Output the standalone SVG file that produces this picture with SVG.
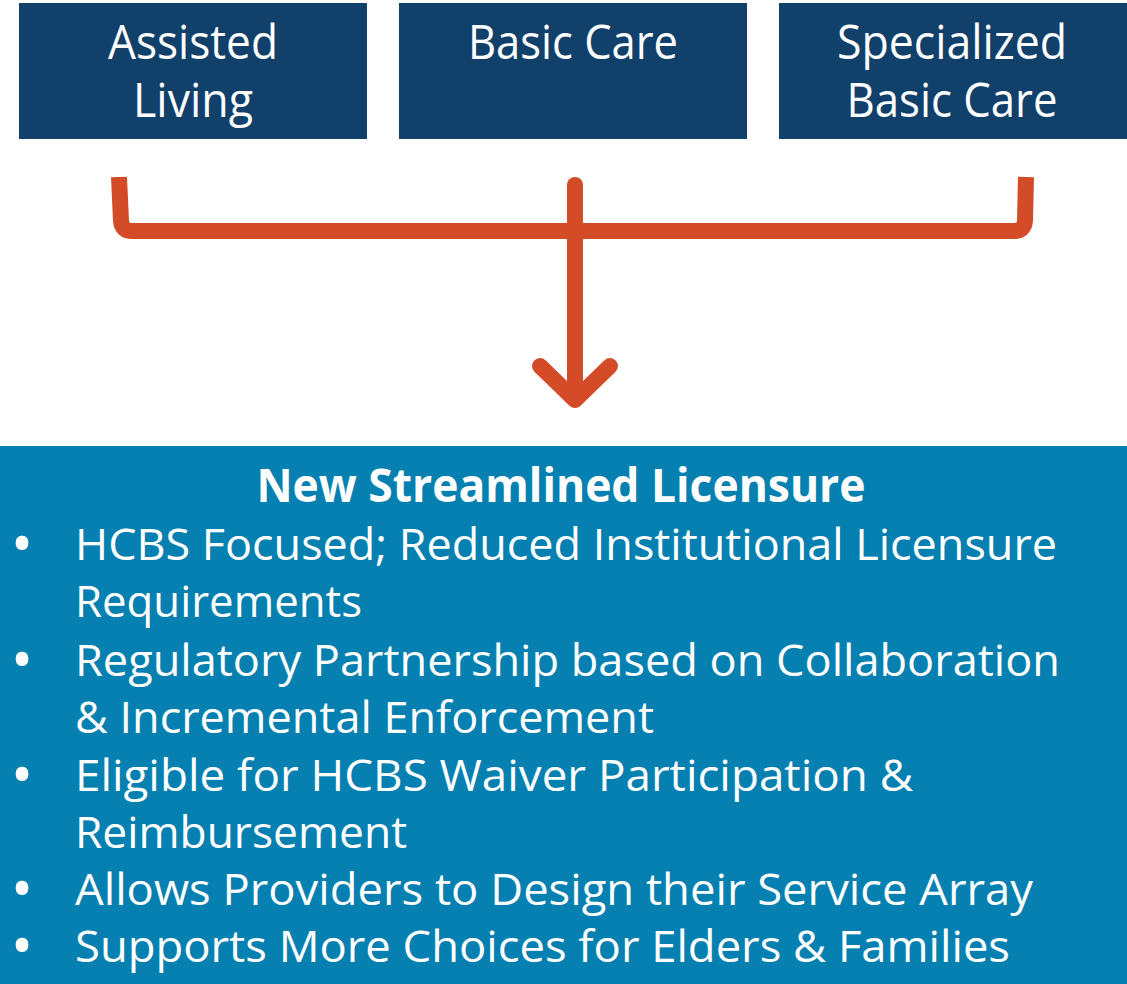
<svg xmlns="http://www.w3.org/2000/svg" width="1127" height="984" viewBox="0 0 1127 984">
<style>
.box{fill:#11406b}
.bt{font-family:"Open Sans","Noto Sans",sans-serif;font-size:48px;fill:#fff;text-anchor:middle}
.li{font-family:"Open Sans","Noto Sans",sans-serif;font-size:44px;fill:#fff}
.bu{font-family:"Open Sans","Noto Sans",sans-serif;font-size:60px;fill:#fff;text-anchor:middle}
.ti{font-family:"Open Sans","Noto Sans",sans-serif;font-size:46px;font-weight:bold;fill:#fff;text-anchor:middle}
.con{fill:none;stroke:#d44b27;stroke-width:16}
</style>
<rect width="1127" height="984" fill="#fff"/>
<g id="node-assisted-living">
<rect class="box" x="19" y="3" width="348" height="136"/>
<text class="bt"><tspan x="193" y="59" textLength="170" lengthAdjust="spacingAndGlyphs">Assisted</tspan><tspan x="193" y="117" textLength="120" lengthAdjust="spacingAndGlyphs">Living</tspan></text>
</g>
<g id="node-basic-care">
<rect class="box" x="399" y="3" width="348" height="136"/>
<text class="bt" x="573" y="59" textLength="210" lengthAdjust="spacingAndGlyphs">Basic Care</text>
</g>
<g id="node-specialized-basic-care">
<rect class="box" x="779" y="3" width="348" height="136"/>
<text class="bt"><tspan x="952" y="59" textLength="230" lengthAdjust="spacingAndGlyphs">Specialized</tspan><tspan x="952" y="117" textLength="211" lengthAdjust="spacingAndGlyphs">Basic Care</tspan></text>
</g>
<g id="connectors">
<path class="con" d="M119,177 L121,221 Q122,231 132,231 L1014,231 Q1024,231 1025,221 L1026,177"/>
<path class="con" stroke-width="15" stroke-linecap="round" d="M575,185 L575,398"/>
<path class="con" stroke-width="15" stroke-linecap="round" stroke-linejoin="round" d="M540,366 L575,400 L610,366"/>
</g>
<g id="node-new-streamlined-licensure">
<rect x="0" y="446" width="1127" height="538" fill="#0580b0"/>
<text class="ti" x="561" y="502" textLength="609" lengthAdjust="spacingAndGlyphs">New Streamlined Licensure</text>
<text class="bu" x="22" y="565">•</text>
<text class="li" x="75" y="560" textLength="982" lengthAdjust="spacingAndGlyphs">HCBS Focused; Reduced Institutional Licensure</text>
<text class="li" x="75" y="617" textLength="287" lengthAdjust="spacingAndGlyphs">Requirements</text>
<text class="bu" x="22" y="681">•</text>
<text class="li" x="75" y="676" textLength="985" lengthAdjust="spacingAndGlyphs">Regulatory Partnership based on Collaboration</text>
<text class="li" x="75" y="733" textLength="579" lengthAdjust="spacingAndGlyphs">&amp; Incremental Enforcement</text>
<text class="bu" x="22" y="796">•</text>
<text class="li" x="75" y="791" textLength="838" lengthAdjust="spacingAndGlyphs">Eligible for HCBS Waiver Participation &amp;</text>
<text class="li" x="75" y="848" textLength="332" lengthAdjust="spacingAndGlyphs">Reimbursement</text>
<text class="bu" x="22" y="910">•</text>
<text class="li" x="75" y="905" textLength="958" lengthAdjust="spacingAndGlyphs">Allows Providers to Design their Service Array</text>
<text class="bu" x="22" y="967">•</text>
<text class="li" x="75" y="962" textLength="935" lengthAdjust="spacingAndGlyphs">Supports More Choices for Elders &amp; Families</text>
</g>
</svg>
